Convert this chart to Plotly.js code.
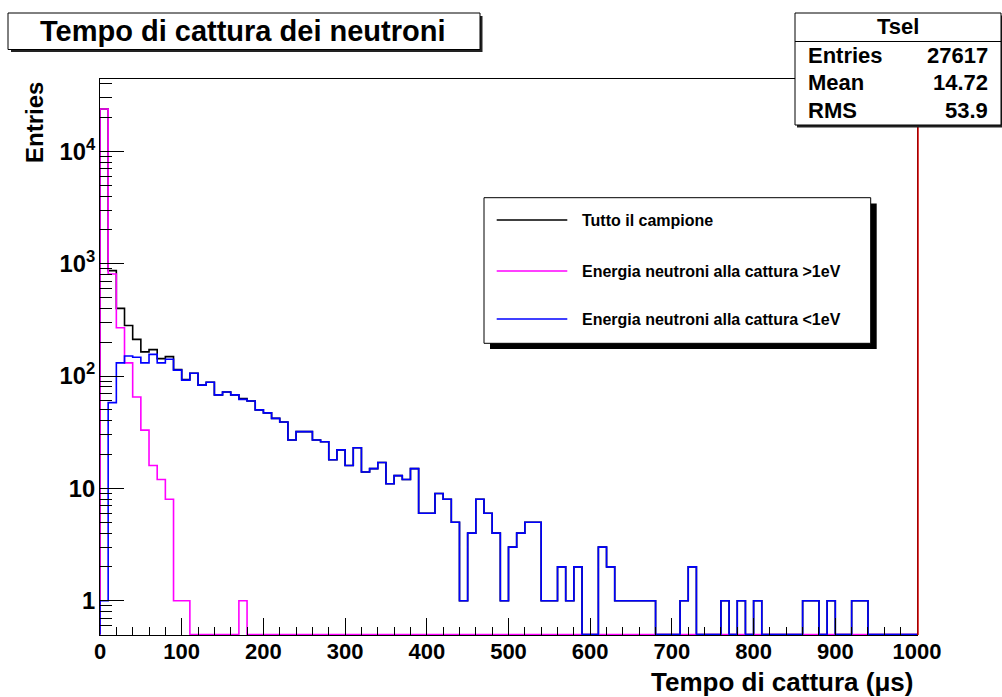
<!DOCTYPE html>
<html>
<head>
<meta charset="utf-8">
<script src="https://cdn.plot.ly/plotly-3.0.1.min.js"></script>
<style>
  html, body { margin: 0; padding: 0; background: #ffffff; }
  #chart { width: 1002px; height: 697px; }
</style>
</head>
<body>
<div id="chart"></div>
<script>
// Histogram binning: 100 bins of 10 µs from 0 to 1000 µs
const binWidth = 10;
const xMin = 0;
const xMax = 1000;

// Counts per bin, neutrons captured with energy > 1 eV
const countsHigh = [
  23812, 809, 269, 131, 65, 33, 16, 12, 8, 1,
  1, 0, 0, 0, 0, 0, 0, 1, 0, 0,
  0, 0, 0, 0, 0, 0, 0, 0, 0, 0,
  0, 0, 0, 0, 0, 0, 0, 0, 0, 0,
  0, 0, 0, 0, 0, 0, 0, 0, 0, 0,
  0, 0, 0, 0, 0, 0, 0, 0, 0, 0,
  0, 0, 0, 0, 0, 0, 0, 0, 0, 0,
  0, 0, 0, 0, 0, 0, 0, 0, 0, 0,
  0, 0, 0, 0, 0, 0, 0, 0, 0, 0,
  0, 0, 0, 0, 0, 0, 0, 0, 0, 0
];

// Counts per bin, neutrons captured with energy < 1 eV
const countsLow = [
  1, 58, 131, 151, 147, 131, 156, 131, 141, 113,
  92, 106, 83, 88, 68, 72, 68, 62, 60, 50,
  47, 42, 39, 27, 32, 32, 27, 26, 18, 22,
  16, 23, 14, 15, 17, 11, 13, 12, 15, 6,
  6, 9, 8, 5, 1, 4, 8, 6, 4, 1,
  3, 4, 5, 5, 1, 1, 2, 1, 2, 0,
  0, 3, 2, 1, 1, 1, 1, 1, 0, 0,
  0, 1, 2, 0, 0, 0, 1, 0, 1, 0,
  1, 0, 0, 0, 0, 0, 1, 1, 0, 1,
  0, 0, 1, 1, 0, 0, 0, 0, 0, 0
];

// Counts per bin, whole sample
const countsAll = [
  23813, 867, 400, 282, 212, 164, 172, 143, 149, 114,
  93, 106, 83, 88, 68, 72, 68, 63, 60, 50,
  47, 42, 39, 27, 32, 32, 27, 26, 18, 22,
  16, 23, 14, 15, 17, 11, 13, 12, 15, 6,
  6, 9, 8, 5, 1, 4, 8, 6, 4, 1,
  3, 4, 5, 5, 1, 1, 2, 1, 2, 0,
  0, 3, 2, 1, 1, 1, 1, 1, 0, 0,
  0, 1, 2, 0, 0, 0, 1, 0, 1, 0,
  1, 0, 0, 0, 0, 0, 1, 1, 0, 1,
  0, 0, 1, 1, 0, 0, 0, 0, 0, 0
];

// Series names, colours and statistics box contents
const seriesNames = ["Tutto il campione", "Energia neutroni alla cattura >1eV", "Energia neutroni alla cattura <1eV"];
const seriesColors = ["#000000", "#ff00ff", "#0000ff"];
const statsName = "Tsel";
const statsLabels = ["Entries", "Mean", "RMS"];
const statsValues = ["27617", "14.72", "53.9"];

const chartTitle = "Tempo di cattura dei neutroni";
const xTitle = "Tempo di cattura (\u03bcs)";
const yTitle = "Entries";

// Lower edge of the log axis; empty bins sit on it
const yFloor = 0.5;

const FONT = "Liberation Sans, Arial, Helvetica, sans-serif";

// Plot-area frame in page pixels, used to place boxes around it
const frame = { l: 100, r: 917, t: 79, b: 635 };
const px = x => (x - frame.l) / (frame.r - frame.l);
const py = y => (frame.b - y) / (frame.b - frame.t);

// Outline of a histogram as a step line over the bin edges
function stepTrace(counts, color, name) {
  const xs = [xMin];
  const ys = [yFloor];
  counts.forEach((c, i) => {
    xs.push(xMin + i * binWidth);
    ys.push(c > 0 ? c : yFloor);
  });
  const last = counts[counts.length - 1];
  xs.push(xMax); ys.push(last > 0 ? last : yFloor);
  xs.push(xMax); ys.push(yFloor);
  return {
    type: "scatter", mode: "lines", name: name,
    x: xs, y: ys,
    line: { shape: "hv", color: color, width: 1.6 },
    showlegend: false, hoverinfo: "skip"
  };
}

const traces = [
  stepTrace(countsAll, seriesColors[0], seriesNames[0]),
  stepTrace(countsHigh, seriesColors[1], seriesNames[1]),
  stepTrace(countsLow, seriesColors[2], seriesNames[2])
];

function rect(x0, y0, x1, y1, fill, lineColor, lineWidth) {
  return {
    type: "rect", xref: "paper", yref: "paper", layer: "above",
    x0: px(x0), x1: px(x1), y0: py(y1), y1: py(y0),
    fillcolor: fill,
    line: { color: lineColor || fill, width: lineWidth === undefined ? 0 : lineWidth }
  };
}
function hline(x0, x1, y, color, width) {
  return {
    type: "line", xref: "paper", yref: "paper", layer: "above",
    x0: px(x0), x1: px(x1), y0: py(y), y1: py(y),
    line: { color: color, width: width }
  };
}
function text(str, x, y, size, xanchor, extra) {
  return Object.assign({
    text: str, xref: "paper", yref: "paper",
    x: px(x), y: py(y), xanchor: xanchor || "center", yanchor: "middle",
    showarrow: false,
    font: { family: FONT, size: size, color: "#000000", weight: "bold" }
  }, extra || {});
}

const shapes = [
  // right frame edge drawn in red at the upper end of the range
  { type: "line", xref: "paper", yref: "paper", layer: "above",
    x0: px(918), x1: px(918), y0: 0, y1: 1, line: { color: "#d40000", width: 1.5 } },
  // title box
  rect(11, 16, 482.5, 52, "#222222"),
  rect(8, 13, 480, 49.5, "#ffffff", "#000000", 1),
  // statistics box
  rect(797, 15.5, 1004, 127.5, "#222222"),
  rect(795, 13, 1001, 125, "#ffffff", "#000000", 1),
  hline(795, 1001, 41.5, "#000000", 1),
  // legend box
  rect(490, 203.5, 876.7, 349, "#000000"),
  rect(484, 197.7, 870.7, 343.3, "#ffffff", "#000000", 1),
  hline(496.7, 567.3, 220, seriesColors[0], 1.6),
  hline(496.7, 567.3, 271, seriesColors[1], 1.6),
  hline(496.7, 567.3, 319, seriesColors[2], 1.6)
];

const annotations = [
  text(chartTitle, 243, 31.5, 29),
  text(statsName, 898, 27, 22),
  text(statsLabels[0], 806, 55, 22, "left"),
  text(statsValues[0], 990, 55, 22, "right"),
  text(statsLabels[1], 806, 83, 22, "left"),
  text(statsValues[1], 990, 83, 22, "right"),
  text(statsLabels[2], 806, 110.5, 22, "left"),
  text(statsValues[2], 990, 110.5, 22, "right"),
  text(seriesNames[0], 580, 220, 16, "left"),
  text(seriesNames[1], 580, 271, 16, "left"),
  text(seriesNames[2], 580, 319, 16, "left"),
  text(xTitle, 915, 682, 26, "right"),
  text(yTitle, 34.5, 122.5, 24, "center", { textangle: -90 })
];

const layout = {
  width: 1002, height: 697,
  margin: { l: frame.l, r: 1002 - frame.r, t: frame.t, b: 697 - frame.b, pad: 0 },
  paper_bgcolor: "#ffffff", plot_bgcolor: "#ffffff",
  showlegend: false,
  font: { family: FONT, color: "#000000" },
  xaxis: {
    range: [xMin, xMax], tick0: 0, dtick: 100,
    ticks: "inside", ticklen: 17, tickwidth: 1, tickcolor: "#000000",
    minor: { ticks: "inside", ticklen: 8, tickwidth: 1, tickcolor: "#000000", dtick: 20, showgrid: false },
    showgrid: false, zeroline: false,
    showline: true, mirror: true, linecolor: "#000000", linewidth: 1,
    tickfont: { family: FONT, size: 22, weight: "bold", color: "#000000" },
    ticklabelstandoff: -3,
    fixedrange: true
  },
  yaxis: {
    type: "log", range: [-0.305, 4.644], tick0: 0, dtick: 1,
    exponentformat: "power",
    ticks: "inside", ticklen: 24, tickwidth: 1, tickcolor: "#000000",
    minor: { ticks: "inside", ticklen: 12, tickwidth: 1, tickcolor: "#000000", dtick: "D1", showgrid: false },
    showgrid: false, zeroline: false,
    showline: true, mirror: true, linecolor: "#000000", linewidth: 1,
    tickfont: { family: FONT, size: 19, weight: "bold", color: "#000000" },
    fixedrange: true
  },
  shapes: shapes,
  annotations: annotations
};

Plotly.newPlot("chart", traces, layout, { staticPlot: true, displayModeBar: false });
</script>
</body>
</html>
